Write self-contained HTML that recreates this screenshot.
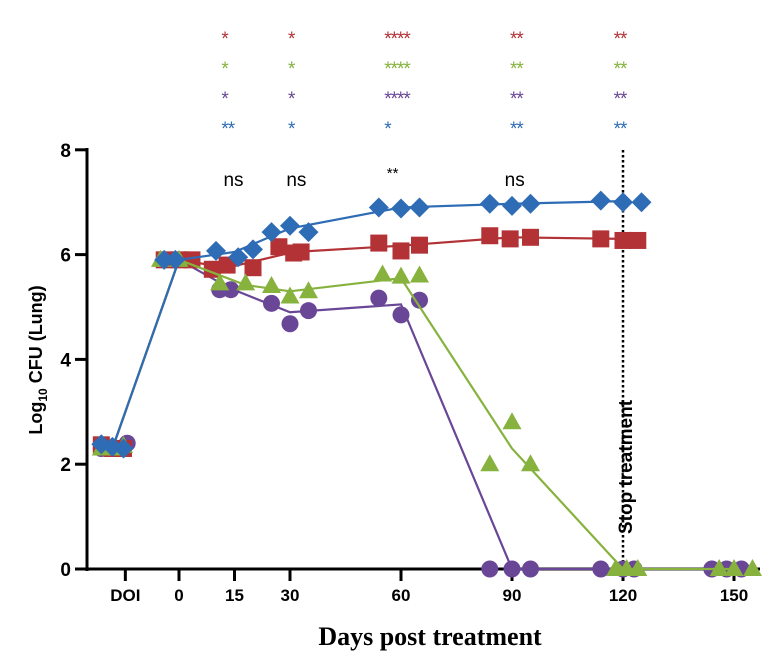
<!DOCTYPE html>
<html><head><meta charset="utf-8"><style>
body{margin:0;background:#fff}
svg{display:block;font-family:"Liberation Sans",sans-serif}
</style></head><body>
<svg id="c" width="774" height="668"></svg>
<script>
const groupLabels=["DOI","0","15","30","60","90","120","150"];
const groupDays=[-14.5,0,15,30,60,90,120,150];
const yTicks=[0,2,4,6,8];
// replicate points: [day, log10 CFU]
const blueDays=[-21,-18,-15,-4,-1,10,16,20,25,30,35,54,60,65,84,90,95,114,120,125];
const blueVals=[2.38,2.33,2.3,5.9,5.9,6.07,5.95,6.1,6.43,6.55,6.43,6.9,6.88,6.9,6.97,6.93,6.97,7.03,7.0,7.0];
const blueMeanDays=[-18,0,15,30,60,90,120];
const blueMeanVals=[2.3,5.9,6.05,6.5,6.9,6.97,7.02];
const redDays=[-21,-18,-15,-4,0,3.5,9,13,20,27,31,33,54,60,65,84,89.5,95,114,120,124];
const redVals=[2.37,2.3,2.3,5.9,5.9,5.9,5.72,5.8,5.75,6.15,6.03,6.05,6.22,6.07,6.18,6.36,6.3,6.33,6.3,6.27,6.27];
const redMeanDays=[-18,0,13,31,60,90,120];
const redMeanVals=[2.3,5.9,5.75,6.05,6.17,6.33,6.3];
const greenDays=[-21,-18,-15,-5,0,11,18,25,30,35,55,60,65,84,90,95,118,121,124,146,150,155];
const greenVals=[2.3,2.3,2.35,5.9,5.9,5.45,5.45,5.4,5.2,5.3,5.62,5.58,5.6,2.0,2.8,2.0,0,0,0,0,0,0];
const greenMeanDays=[-18,0,18,30,60,90,120,150];
const greenMeanVals=[2.3,5.9,5.42,5.3,5.55,2.3,0,0];
const purpleDays=[-21,-18,-14,11,14,25,30,35,54,60,65,84,90,95,114,120,123,144,148,152];
const purpleVals=[2.3,2.3,2.4,5.33,5.33,5.07,4.68,4.93,5.17,4.85,5.13,0,0,0,0,0,0,0,0,0];
const purpleMeanDays=[-18,0,14,30,60,90,120,150];
const purpleMeanVals=[2.3,5.9,5.35,4.9,5.05,0,0,0];
const sigDays=[12,30,56,90,118];
const sigRed=["*","*","****","**","**"];
const sigGreen=["*","*","****","**","**"];
const sigPurple=["*","*","****","**","**"];
const sigBlue=["**","*","*","**","**"];
const nsDays=[15,32,58,91];
const nsText=["ns","ns","**","ns"];

const X=d=>179+d*3.7;
const Y=v=>569-v*52.4;
const svg=document.getElementById('c');
const NS="http://www.w3.org/2000/svg";
function mk(t,a,name,parent){const e=document.createElementNS(NS,t);for(const k in a)e.setAttribute(k,a[k]);


(parent||svg).appendChild(e);return e;}
const C={blue:"#2f6cb6",red:"#b33236",green:"#86b23d",purple:"#6a4697"};

// axes
mk('line',{x1:87,y1:148,x2:87,y2:571,stroke:'#000','stroke-width':3},'y-axis');
mk('line',{x1:86,y1:569,x2:760,y2:569,stroke:'#000','stroke-width':3},'x-axis');
yTicks.forEach(v=>{
 mk('line',{x1:75,y1:Y(v),x2:87,y2:Y(v),stroke:'#000','stroke-width':3},'y-tick');
 const t=mk('text',{x:71,y:Y(v)+7,'text-anchor':'end','font-size':19,'font-weight':'bold'},'y-tick-label');t.textContent=v;
});
groupDays.forEach((d,i)=>{
 mk('line',{x1:X(d),y1:569,x2:X(d),y2:581,stroke:'#000','stroke-width':3},'x-tick');
 const t=mk('text',{x:X(d),y:601,'text-anchor':'middle','font-size':17,'font-weight':'bold'},'x-tick-label');t.textContent=groupLabels[i];
});
let t=mk('text',{x:430,y:645,'text-anchor':'middle','font-size':26,'font-weight':'bold','font-family':'"Liberation Serif",serif'},'x-axis-title');t.textContent="Days post treatment";
t=mk('text',{transform:'translate(42,360) rotate(-90)','text-anchor':'middle','font-size':18,'font-weight':'bold'},'y-axis-title');
t.innerHTML='Log<tspan font-size="12" dy="5">10</tspan><tspan dy="-5"> CFU (Lung)</tspan>';

// stop treatment
mk('line',{x1:X(120),y1:150,x2:X(120),y2:569,stroke:'#000','stroke-width':2.5,'stroke-dasharray':'2.5 2.5'},'stop-treatment-line');
t=mk('text',{transform:`translate(${X(120)+9},467) rotate(-90)`,'text-anchor':'middle','font-size':19,'font-weight':'bold'},'stop-treatment-label');t.textContent="Stop treatment";

function series(days,vals,md,mv,col,shape,name){
 const g=mk('g',{},name+'-series');
 mk('polyline',{points:md.map((d,i)=>X(d)+','+Y(mv[i])).join(' '),fill:'none',stroke:col,'stroke-width':2.2},name+'-line',g);
 days.forEach((d,i)=>{const x=X(d),y=Y(vals[i]);
  if(shape==='d'){mk('polygon',{points:`${x},${y-10} ${x+10},${y} ${x},${y+10} ${x-10},${y}`,fill:col},name+'-point',g);}
  else if(shape==='s'){mk('rect',{x:x-8.5,y:y-8.5,width:17,height:17,fill:col},name+'-point',g);}
  else if(shape==='t'){mk('polygon',{points:`${x},${y-10} ${x+9.5},${y+7} ${x-9.5},${y+7}`,fill:col},name+'-point',g);}
  else {mk('circle',{cx:x,cy:y,r:8.5,fill:col},name+'-point',g);}
 });
}
series(purpleDays,purpleVals,purpleMeanDays,purpleMeanVals,C.purple,'c','purple');
series(redDays,redVals,redMeanDays,redMeanVals,C.red,'s','red');
series(greenDays,greenVals,greenMeanDays,greenMeanVals,C.green,'t','green');
series(blueDays,blueVals,blueMeanDays,blueMeanVals,C.blue,'d','blue');

[[sigRed,C.red,45],[sigGreen,C.green,75],[sigPurple,C.purple,105],[sigBlue,C.blue,135]].forEach(([arr,col,y])=>{
 arr.forEach((s,i)=>{const e=mk('text',{x:X(sigDays[i])-2,y:y,'font-size':19,'letter-spacing':'-1',fill:col},'significance-stars');e.textContent=s;});
});
nsDays.forEach((d,i)=>{const e=mk('text',{x:X(d)-1,y:nsText[i]==='**'?178:186,'text-anchor':'middle','font-size':nsText[i]==='**'?15:19},'ns-label');e.textContent=nsText[i];});
</script>
</body></html>
